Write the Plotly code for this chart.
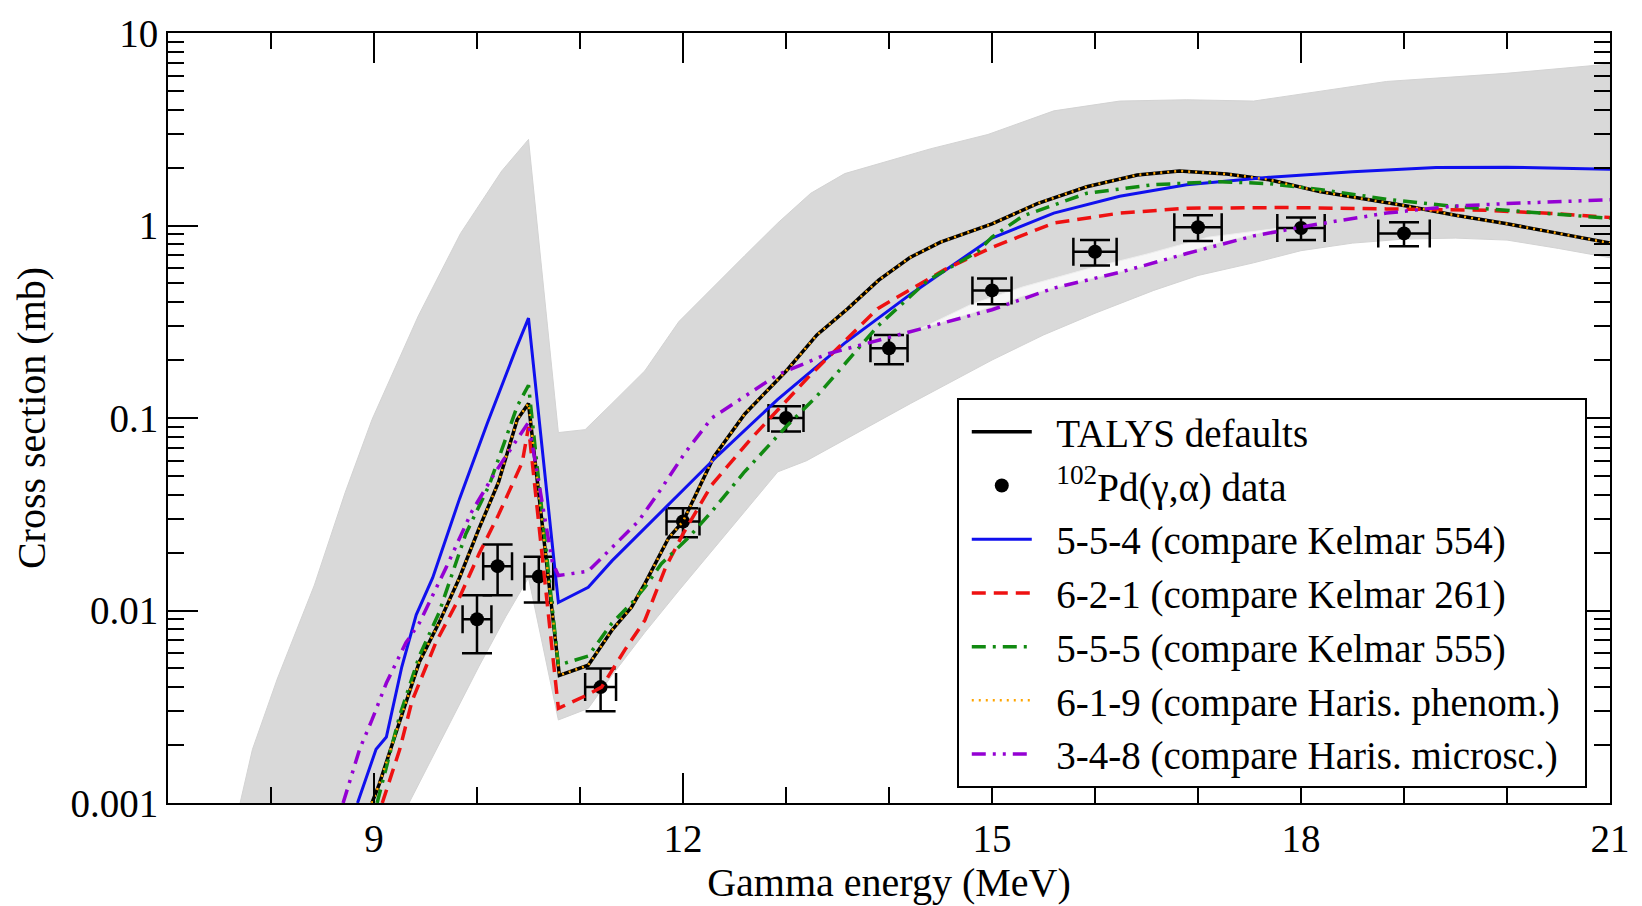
import plotly.graph_objects as go

# ---- measured data: 102Pd(gamma,alpha) ----
data_E = [10.0, 10.2, 10.6, 11.2, 12.0, 13.0, 14.0, 15.0, 16.0, 17.0, 18.0, 19.0]
data_xs = [0.009, 0.017, 0.015, 0.004, 0.029, 0.100, 0.23, 0.46, 0.73, 0.98, 0.97, 0.91]
data_dxs = [0.003, 0.005, 0.004, 0.001, 0.005, 0.015, 0.04, 0.07, 0.11, 0.15, 0.13, 0.13]
data_dE = [0.14, 0.14, 0.14, 0.15, 0.16, 0.17, 0.18, 0.19, 0.21, 0.23, 0.23, 0.25]

# ---- spread of all TALYS model combinations (envelope) ----
band_hi_E = [7.70, 7.82, 8.06, 8.42, 8.72, 8.98, 9.43, 9.84, 10.24, 10.5,
             10.79, 11.05, 11.31, 11.63, 11.96, 12.28, 12.6, 12.92, 13.24, 13.57, 13.89,
             14.4, 14.96, 15.6, 16.24, 16.89, 17.54, 18.18, 18.83, 19.99, 21.0]
band_hi = [0.001, 0.0019, 0.0044, 0.0135, 0.041, 0.098, 0.339, 0.91, 1.92, 2.8,
           0.084, 0.087, 0.119, 0.176, 0.317, 0.473, 0.698, 1.03, 1.47, 1.86, 2.09,
           2.5, 2.97, 3.94, 4.43, 4.5, 4.43, 4.99, 5.6, 6.17, 6.9]
band_lo_E = [9.34, 9.70, 10.02, 10.28, 10.5, 10.79, 11.08, 11.31, 11.63, 11.96, 12.28, 12.6,
             12.92, 13.2, 14.21, 15.0, 15.5, 16.0, 16.57, 17.0, 17.54, 18.0, 18.5, 19.0,
             19.5, 20.0, 20.5, 21.0]
band_lo = [0.001, 0.00236, 0.00514, 0.0093, 0.0148, 0.0027, 0.0031, 0.0046, 0.0077, 0.0127, 0.0204, 0.0327,
           0.0525, 0.06, 0.119, 0.2, 0.27, 0.35, 0.46, 0.55, 0.64, 0.74, 0.81, 0.85,
           0.86, 0.84, 0.76, 0.68]

# sparse strip inside the spread where almost no model curve passes
gap_E = [14.3, 14.8, 15.3, 15.9, 16.5, 17.1, 17.8]
gap_hi = [0.29, 0.39, 0.48, 0.59, 0.71, 0.87, 0.97]
gap_lo = [0.29, 0.35, 0.43, 0.52, 0.62, 0.79, 0.97]

# ---- TALYS defaults ----
def_E = [8.98, 9.05, 9.25, 9.44, 9.63, 9.83, 10.02, 10.21, 10.39, 10.5, 10.8, 11.08, 11.31, 11.5,
         11.63, 11.86, 12.0, 12.3, 12.6, 13.0, 13.3, 13.6, 13.9, 14.2, 14.5, 15.0, 15.44, 15.92,
         16.41, 16.82, 17.28, 17.69, 18.18, 18.6, 19.0, 19.5, 20.0, 20.5, 21.0]
def_xs = [0.001, 0.00125, 0.00266, 0.0054, 0.0086, 0.0148, 0.0267, 0.0465, 0.098, 0.119, 0.0046, 0.0052,
          0.0079, 0.0104, 0.0138, 0.0238, 0.029, 0.063, 0.105, 0.175, 0.27, 0.37, 0.52, 0.68, 0.82,
          1.02, 1.30, 1.59, 1.83, 1.92, 1.85, 1.73, 1.50, 1.38, 1.27, 1.13, 1.02, 0.91, 0.81]

# ---- 6-1-9 (identical to defaults) ----
m619_E = list(def_E)
m619_xs = list(def_xs)

# ---- 5-5-4 ----
m554_E = [8.84, 9.02, 9.12, 9.27, 9.41, 9.57, 9.83, 10.1, 10.38, 10.5, 10.79, 11.08, 11.31, 11.63,
          11.96, 12.34, 12.92, 13.57, 14.21, 15.0, 15.6, 16.24, 16.89, 17.69, 18.5, 19.31, 20.0, 21.0]
m554_xs = [0.001, 0.0019, 0.0022, 0.0051, 0.0095, 0.0148, 0.038, 0.094, 0.23, 0.33, 0.011, 0.0132,
           0.0181, 0.0267, 0.040, 0.064, 0.125, 0.245, 0.44, 0.86, 1.16, 1.42, 1.63, 1.78, 1.90,
           2.0, 2.01, 1.96]

# ---- 6-2-1 ----
m621_E = [9.08, 9.25, 9.37, 9.6, 9.83, 10.02, 10.21, 10.44, 10.5, 10.79, 11.05, 11.21, 11.44, 11.63,
          11.83, 12.0, 12.28, 12.66, 13.24, 13.89, 14.54, 15.0, 15.6, 16.24, 16.89, 17.86, 18.83,
          19.79, 20.5, 21.0]
m621_xs = [0.001, 0.0019, 0.0034, 0.0068, 0.0117, 0.0197, 0.0315, 0.059, 0.09, 0.0031, 0.0036, 0.004,
           0.0063, 0.0089, 0.0167, 0.025, 0.045, 0.078, 0.168, 0.37, 0.59, 0.77, 1.03, 1.16, 1.23,
           1.24, 1.22, 1.20, 1.15, 1.10]

# ---- 5-5-5 ----
m555_E = [9.03, 9.25, 9.44, 9.63, 9.89, 10.12, 10.39, 10.5, 10.79, 11.08, 11.31, 11.5, 11.63, 11.79,
          12.05, 12.28, 12.59, 13.0, 13.3, 13.89, 14.38, 14.86, 15.0, 15.3, 15.92, 16.57, 17.21,
          17.69, 18.18, 18.83, 19.47, 20.0, 20.5, 21.0]
m555_xs = [0.001, 0.00285, 0.0058, 0.0097, 0.0249, 0.045, 0.115, 0.148, 0.0052, 0.0058, 0.0086, 0.0109,
           0.0132, 0.0175, 0.0238, 0.0327, 0.052, 0.09, 0.13, 0.30, 0.52, 0.73, 0.87, 1.12, 1.47,
           1.63, 1.69, 1.65, 1.54, 1.37, 1.26, 1.20, 1.14, 1.09]

# ---- 3-4-8 ----
m348_E = [8.70, 8.86, 8.98, 9.12, 9.31, 9.44, 9.70, 9.95, 10.18, 10.5, 10.73, 10.79, 11.08, 11.31,
          11.57, 11.79, 12.02, 12.28, 12.92, 13.4, 14.05, 14.69, 15.0, 15.6, 16.24, 16.89, 17.54,
          18.18, 18.83, 19.47, 20.0, 21.0]
m348_xs = [0.001, 0.0019, 0.0027, 0.0042, 0.0068, 0.0086, 0.0167, 0.0327, 0.0525, 0.095, 0.018, 0.0152,
           0.016, 0.0212, 0.0292, 0.043, 0.066, 0.10, 0.168, 0.215, 0.266, 0.329, 0.365, 0.473, 0.571,
           0.715, 0.883, 1.02, 1.16, 1.26, 1.30, 1.36]

FONT = "Liberation Serif, Times New Roman, serif"
PAD = "\u00a0\u00a0"  # small gap between legend sample and label / box edge
fig = go.Figure()

# grey envelope of model variations
fig.add_trace(go.Scatter(
    x=band_hi_E + band_lo_E[::-1], y=band_hi + band_lo[::-1],
    mode="lines", fill="toself", fillcolor="#d9d9d9",
    line=dict(color="#d3d3d3", width=1), showlegend=False, hoverinfo="skip"))
fig.add_trace(go.Scatter(
    x=gap_E + gap_E[::-1], y=gap_hi + gap_lo[::-1],
    mode="lines", fill="toself", fillcolor="#f7f7f7",
    line=dict(color="#eeeeee", width=1), showlegend=False, hoverinfo="skip"))

fig.add_trace(go.Scatter(
    x=data_E, y=data_xs, mode="markers", name=PAD + "<sup>102</sup>Pd(γ,α) data", legendrank=2,
    marker=dict(color="black", size=14, symbol="circle"),
    error_y=dict(type="data", array=data_dxs, color="black", thickness=2.5, width=15),
    error_x=dict(type="data", array=data_dE, color="black", thickness=2.5, width=14)))

fig.add_trace(go.Scatter(x=def_E, y=def_xs, mode="lines", name=PAD + "TALYS defaults", legendrank=1,
                         line=dict(color="black", width=3.5)))
fig.add_trace(go.Scatter(x=m554_E, y=m554_xs, mode="lines", name=PAD + "5-5-4 (compare Kelmar 554)",
                         legendrank=3, line=dict(color="#1010ee", width=3)))
fig.add_trace(go.Scatter(x=m621_E, y=m621_xs, mode="lines", name=PAD + "6-2-1 (compare Kelmar 261)",
                         legendrank=4, line=dict(color="#ee1111", width=3.5, dash="14px,8px")))
fig.add_trace(go.Scatter(x=m555_E, y=m555_xs, mode="lines", name=PAD + "5-5-5 (compare Kelmar 555)",
                         legendrank=5, line=dict(color="#118a11", width=3.5, dash="14px,7px,3px,7px")))
fig.add_trace(go.Scatter(x=m619_E, y=m619_xs, mode="lines",
                         name=PAD + "6-1-9 (compare Haris. phenom.)" + PAD,
                         legendrank=6, line=dict(color="#ffa500", width=2.5, dash="2px,5px")))
fig.add_trace(go.Scatter(x=m348_E, y=m348_xs, mode="lines", name=PAD + "3-4-8 (compare Haris. microsc.)",
                         legendrank=7,
                         line=dict(color="#9400d3", width=3.5, dash="14px,7px,3px,7px,3px,7px")))

axis_common = dict(showline=True, linecolor="black", linewidth=2, mirror="ticks",
                   ticks="inside", ticklen=30, tickwidth=2, tickcolor="black",
                   showgrid=False, zeroline=False,
                   tickfont=dict(family=FONT, size=39, color="black"))

fig.update_xaxes(range=[7, 21], tickvals=[9, 12, 15, 18, 21],
                 minor=dict(ticks="inside", ticklen=16, tickwidth=2, tickcolor="black",
                            dtick=1, tick0=7, showgrid=False),
                 title=dict(text="Gamma energy (MeV)", font=dict(family=FONT, size=40, color="black"),
                            standoff=6),
                 **axis_common)
fig.update_yaxes(type="log", range=[-3, 1],
                 tickvals=[0.001, 0.01, 0.1, 1, 10], ticktext=["0.001", "0.01", "0.1", "1", "10"],
                 minor=dict(ticks="inside", ticklen=16, tickwidth=2, tickcolor="black",
                            dtick="D1", showgrid=False),
                 title=dict(text="Cross section (mb)", font=dict(family=FONT, size=40, color="black"),
                            standoff=12),
                 **axis_common)

fig.update_layout(
    width=1642, height=906,
    margin=dict(l=168, r=27, t=24, b=100),
    paper_bgcolor="white", plot_bgcolor="white",
    font=dict(family=FONT, size=39, color="black"),
    legend=dict(x=0.547, y=0.526, xanchor="left", yanchor="top",
                bgcolor="white", bordercolor="black", borderwidth=2,
                font=dict(family=FONT, size=39, color="black"),
                itemwidth=60, indentation=8, tracegroupgap=0),
)

fig.write_html("out.html")
